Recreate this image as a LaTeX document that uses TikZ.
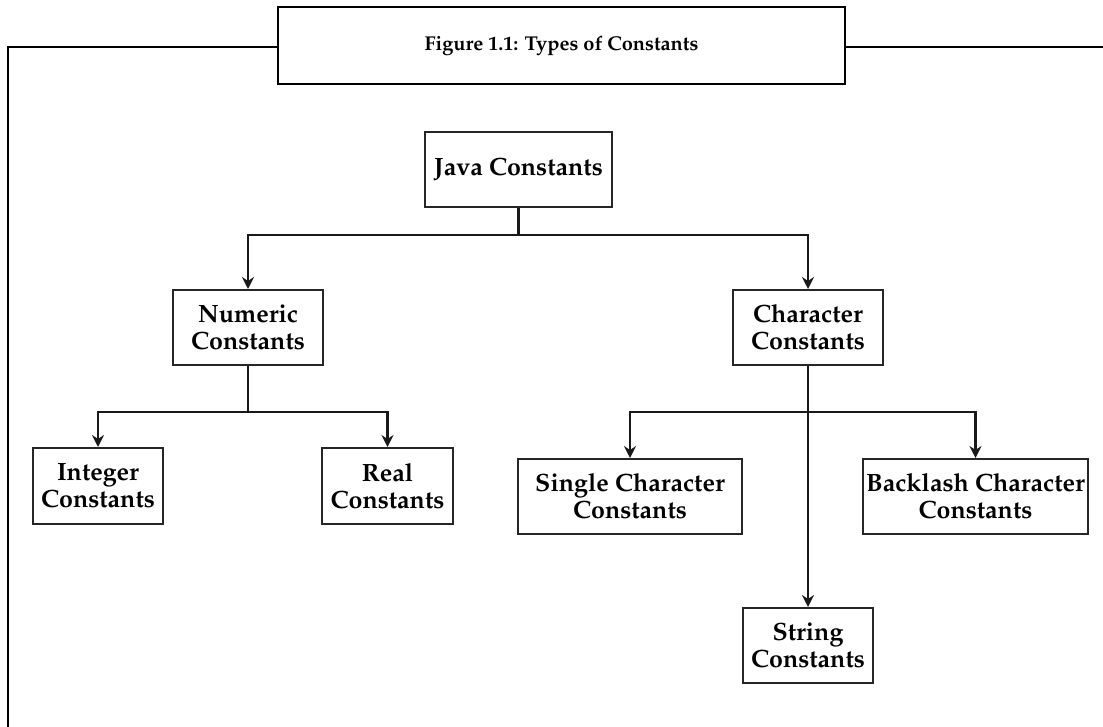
\documentclass[tikz,border=0pt]{standalone}
\usepackage[T1]{fontenc}
\renewcommand{\rmdefault}{ppl}
\usetikzlibrary{arrows.meta}
\begin{document}
\begin{tikzpicture}[x=1pt,y=-1pt,
  box/.style={draw=black!85, line width=2pt, fill=white, inner sep=0pt, align=center,
    font=\fontsize{25}{27}\selectfont\bfseries},
  framebox/.style={draw=black, line width=2.6pt, fill=white, inner sep=0pt, align=center,
    font=\fontsize{20}{24}\selectfont\bfseries},
  frameline/.style={draw=black, line width=2.6pt},
  conn/.style={draw=black!90, line width=2.2pt},
  arr/.style={conn, -{Stealth[length=12pt,width=12pt,inset=4pt]}}
]
\useasboundingbox (0,0) rectangle (1103,727);
% title and frame
\node[framebox, minimum width=567pt, minimum height=77pt] (title) at (561.5,45.5) {Figure 1.1: Types of Constants};
\coordinate (fbl) at (8,727);
\coordinate (ftl) at (8,47);
\coordinate (ftr) at (1103,47);
\draw[frameline] (fbl) -- (ftl) -- (ftl -| title.west);
\draw[frameline] (ftr -| title.east) -- (ftr);
% nodes
\node[box, minimum width=187pt, minimum height=75pt] (java) at (518.5,169.5) {Java Constants};
\node[box, minimum width=150pt, minimum height=75pt] (numeric) at (248,327.5) {Numeric\\Constants};
\node[box, minimum width=150pt, minimum height=75pt] (character) at (808,327.5) {Character\\Constants};
\node[box, minimum width=130pt, minimum height=76pt] (integer) at (98,486) {Integer\\Constants};
\node[box, minimum width=131pt, minimum height=76pt] (real) at (387.5,486) {Real\\Constants};
\node[box, minimum width=224pt, minimum height=75pt] (single) at (630,496.5) {Single Character\\Constants};
\node[box, minimum width=225pt, minimum height=75pt] (backlash) at (975.5,496.5) {Backlash Character\\Constants};
\node[box, minimum width=130pt, minimum height=75pt] (string) at (808,645.5) {String\\Constants};
% branch points
\coordinate (jb) at (518.5,235);
\coordinate (nb) at (248,412);
\coordinate (cb) at (808,412);
% connectors
\draw[conn] (java.south) -- (jb);
\draw[arr] (jb) -| (numeric.north);
\draw[arr] (jb) -| (character.north);
\draw[conn] (numeric.south) -- (nb);
\draw[arr] (nb) -| (integer.north);
\draw[arr] (nb) -| (real.north);
\draw[arr] (character.south) -- (string.north);
\draw[arr] (cb) -| (single.north);
\draw[arr] (cb) -| (backlash.north);
\end{tikzpicture}
\end{document}
